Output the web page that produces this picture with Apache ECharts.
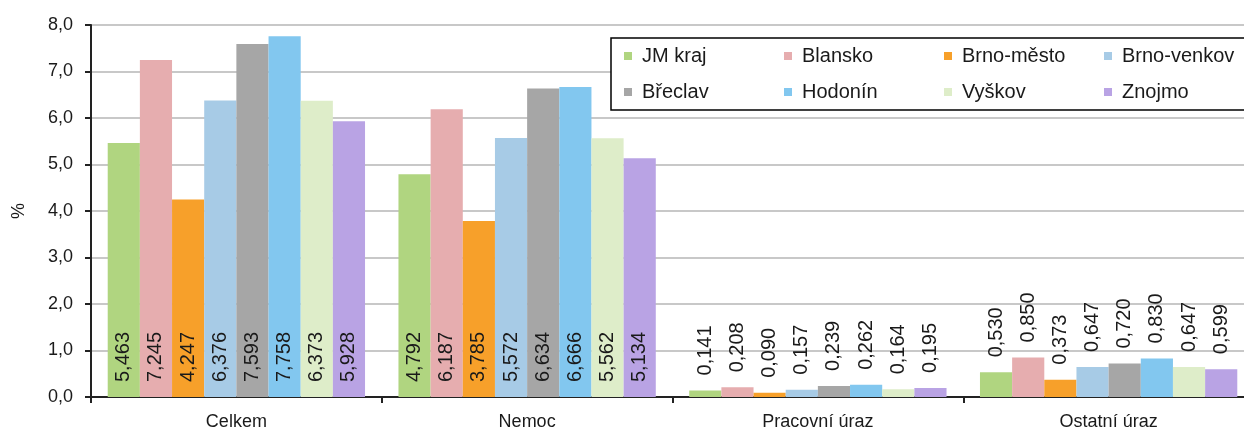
<!DOCTYPE html>
<html>
<head>
<meta charset="utf-8">
<script src="https://cdn.jsdelivr.net/npm/echarts@6/dist/echarts.min.js"></script>
<style>
html, body { margin: 0; padding: 0; background: #fff; }
#chart { width: 1244px; height: 432px; }
</style>
</head>
<body>
<div id="chart"></div>
<script>
// kategorie a hodnoty (%)
const categories = ['Celkem', 'Nemoc', 'Pracovní úraz', 'Ostatní úraz']
const regions = ['JM kraj', 'Blansko', 'Brno-město', 'Brno-venkov', 'Břeclav', 'Hodonín', 'Vyškov', 'Znojmo']
const jmKraj = [5.463, 4.792, 0.141, 0.530]
const blansko = [7.245, 6.187, 0.208, 0.850]
const brnoMesto = [4.247, 3.785, 0.090, 0.373]
const brnoVenkov = [6.376, 5.572, 0.157, 0.647]
const breclav = [7.593, 6.634, 0.239, 0.720]
const hodonin = [7.758, 6.666, 0.262, 0.830]
const vyskov = [6.373, 5.562, 0.164, 0.647]
const znojmo = [5.928, 5.134, 0.195, 0.599]
const yTicks = [0, 1, 2, 3, 4, 5, 6, 7, 8]

const values = [jmKraj, blansko, brnoMesto, brnoVenkov, breclav, hodonin, vyskov, znojmo]
const colors = ['#b0d580', '#e6adaf', '#f7a02a', '#a7cbe6', '#a6a6a6', '#82c7ef', '#deedc9', '#b9a3e4']
const font = 'Liberation Sans, Arial, sans-serif'

const myChart = echarts.init(document.getElementById('chart'))

// popisky: u velkych sloupcu uvnitr dole, u malych nad sloupcem
function labelFor(v){
  return {
    show: true,
    rotate: 90,
    align: 'left',
    verticalAlign: 'middle',
    position: v > 2 ? 'insideBottom' : 'top',
    distance: 15,
    fontFamily: font,
    fontSize: 20,
    color: '#1a1a1a',
    formatter: p => p.value.toFixed(3).replace('.', ',')
  }
}

const series = regions.map((name, i) => ({
  name: name,
  type: 'bar',
  barGap: 0,
  barCategoryGap: '11.5%',
  itemStyle: { color: colors[i] },
  data: values[i].map(v => ({ value: v, label: labelFor(v) }))
}))

// legenda: 4 sloupce x 2 radky
const legendX = [624, 784, 944, 1104]
const legendY = [46, 82]
const legends = regions.map((name, i) => ({
  data: [name],
  left: legendX[i % 4],
  top: legendY[Math.floor(i / 4)],
  padding: 0,
  icon: 'rect',
  itemWidth: 8,
  itemHeight: 8,
  selectedMode: false,
  z: 20,
  textStyle: { fontFamily: font, fontSize: 20, color: '#1a1a1a', padding: [0, 0, 0, 5] }
}))

const option = {
  animation: false,
  textStyle: { fontFamily: font },
  grid: { left: 91, right: -10, top: 25, bottom: 35, outerBoundsMode: 'none', containLabel: false },
  legend: legends,
  graphic: [{
    type: 'rect',
    z: 10,
    shape: { x: 611, y: 38, width: 700, height: 72 },
    style: { fill: '#fff', stroke: '#000', lineWidth: 1.5 }
  }],
  xAxis: {
    type: 'category',
    data: categories,
    axisLine: { lineStyle: { color: '#222', width: 2 } },
    axisTick: { show: true, length: 6, lineStyle: { color: '#222', width: 2 } },
    axisLabel: { margin: 16, fontSize: 18, color: '#1a1a1a', fontFamily: font }
  },
  yAxis: {
    type: 'value',
    min: yTicks[0],
    max: yTicks[yTicks.length - 1],
    interval: 1,
    name: '%',
    nameLocation: 'middle',
    nameGap: 63,
    nameRotate: 90,
    nameTextStyle: { fontSize: 18, color: '#1a1a1a', fontFamily: font },
    axisLine: { show: true, lineStyle: { color: '#222', width: 2 } },
    axisTick: { show: true, length: 6, lineStyle: { color: '#222', width: 2 } },
    axisLabel: {
      margin: 18,
      fontSize: 18,
      color: '#1a1a1a',
      fontFamily: font,
      formatter: v => v.toFixed(1).replace('.', ',')
    },
    splitLine: { lineStyle: { color: '#c8c8c8', width: 2 } }
  },
  series: series
}

myChart.setOption(option)
window.addEventListener('resize', function(){
  myChart.resize()
})
</script>
</body>
</html>
